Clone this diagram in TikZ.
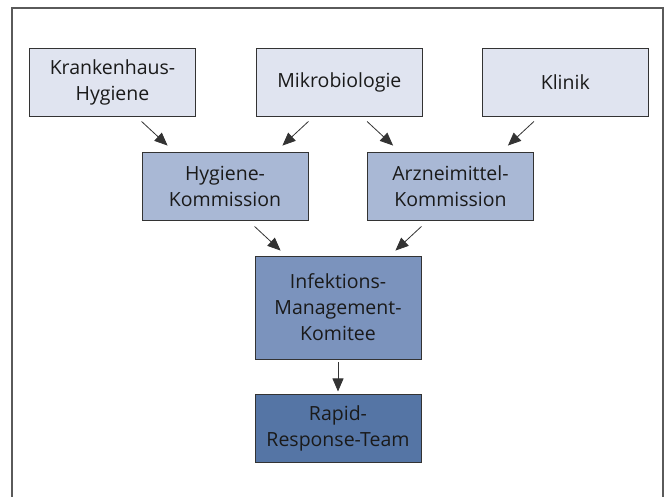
\documentclass[tikz,border=0pt]{standalone}
\usepackage{fontspec}
\setmainfont{Open Sans}
\usepackage{tikz}
\usetikzlibrary{arrows.meta, positioning, calc}
\definecolor{imLevelA}{HTML}{E0E4F0}
\definecolor{imLevelB}{HTML}{A9B8D5}
\definecolor{imLevelC}{HTML}{7B93BD}
\definecolor{imLevelD}{HTML}{5575A5}
\definecolor{imLine}{HTML}{333333}
\definecolor{imFrame}{HTML}{5A5A5A}
\definecolor{imText}{HTML}{1A1A1A}
\tikzset{
  imnode/.style={
    draw=imLine, line width=0.9pt, minimum width=166pt, minimum height=68pt,
    font=\fontsize{19.5}{26}\selectfont, text=imText, align=center, inner sep=2pt
  },
  source/.style={imnode, fill=imLevelA},
  board/.style={imnode, fill=imLevelB},
  committee/.style={imnode, fill=imLevelC, minimum height=103pt},
  team/.style={imnode, fill=imLevelD},
  flow/.style={-{Triangle[length=13pt, width=11pt]}, line width=0.8pt, imLine},
  frame/.style={draw=imFrame, line width=1.4pt}
}
\begin{document}
\begin{tikzpicture}[x=1pt, y=-1pt, node distance=60pt]
  \useasboundingbox (0,0) rectangle (670,497);
  \draw[frame] (12,497) -- (12,8) -- (663,8) -- (663,497);
  % sources
  \node[source] (kh) at (112.5,82) {Krankenhaus-\\Hygiene};
  \node[source, right=of kh] (mikro) {Mikrobiologie};
  \node[source, right=59pt of mikro] (klinik) {Klinik};
  % commissions
  \node[board] (hk) at (225,186) {Hygiene-\\Kommission};
  \node[board] (ak) at (450.5,186) {Arzneimittel-\\Kommission};
  % management
  \node[committee] (imk) at (338,307.5) {Infektions-\\Management-\\Komitee};
  \node[team, below=35pt of imk] (rrt) {Rapid-\\Response-Team};
  \draw[flow] ($(kh.south -| hk.west)+(0,5)$) -- ($(hk.north west)+(26,-6)$);
  \draw[flow] ($(mikro.south -| hk.east)+(0,5)$) -- ($(hk.north east)+(-26,-6)$);
  \draw[flow] ($(mikro.south -| ak.west)+(0,5)$) -- ($(ak.north west)+(26,-6)$);
  \draw[flow] ($(klinik.south -| ak.east)+(0,5)$) -- ($(ak.north east)+(-26,-6)$);
  \draw[flow] ($(hk.south -| imk.west)+(0,6)$) -- ($(imk.north west)+(26,-5)$);
  \draw[flow] ($(ak.south -| imk.east)+(0,6)$) -- ($(imk.north east)+(-26,-5)$);
  \draw[flow] ($(imk.south)+(0,3)$) -- ($(rrt.north)+(0,-3)$);
\end{tikzpicture}
\end{document}
